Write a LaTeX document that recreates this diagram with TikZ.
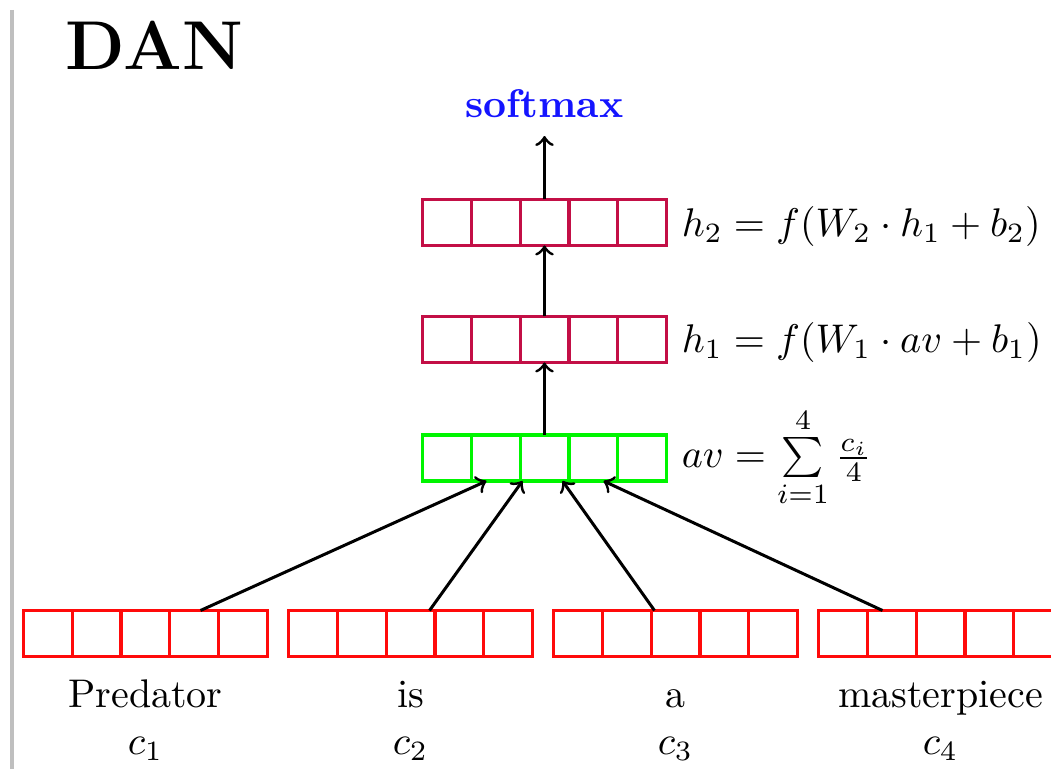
\documentclass[tikz,border=0pt]{standalone}
\usetikzlibrary{calc}
\definecolor{hred}{RGB}{195,15,70}
\definecolor{vgreen}{RGB}{0,245,0}
\definecolor{vred}{RGB}{255,10,10}
\definecolor{smblue}{RGB}{20,20,255}
\begin{document}
\begin{tikzpicture}[x=0.25pt,y=-0.25pt,
  vec/.style={draw, line width=0.8pt, minimum width=61pt, minimum height=11.5pt, inner sep=0pt, outer sep=0pt},
  arr/.style={->, line width=0.75pt},
  lbl/.style={anchor=base west, inner sep=0pt},
  word/.style={anchor=base, inner sep=0pt}]
\useasboundingbox (0,0) rectangle (1051,769);
\clip (0,0) rectangle (1051,769);
\draw[black!25, line width=1pt] (12,10) -- (12,775);
\node[anchor=base west, inner sep=0pt, font=\LARGE\bfseries] (title) at (65,70) {DAN};
% vectors
\node[vec, draw=hred] (h2) at (544.5,222.5) {};
\node[vec, draw=hred] (h1) at (544.5,339.5) {};
\node[vec, draw=vgreen] (av) at (544.5,458) {};
\node[vec, draw=vred] (v1) at (145.5,633.5) {};
\node[vec, draw=vred] (v2) at (410.5,633.5) {};
\node[vec, draw=vred] (v3) at (675.5,633.5) {};
\node[vec, draw=vred] (v4) at (940.5,633.5) {};
\foreach \v/\c in {h2/hred,h1/hred,av/vgreen,v1/vred,v2/vred,v3/vred,v4/vred}
  \foreach \k in {1,...,4}
    \draw[\c, line width=0.8pt] ($(\v.north west)!\k/5!(\v.north east)$) -- ($(\v.south west)!\k/5!(\v.south east)$);
% softmax
\node[anchor=base, inner sep=4.25pt, text=smblue, font=\bfseries] (sm) at (544.5,118) {softmax};
% arrows
\draw[arr] (h2.north) -- (sm.south);
\draw[arr] (h1.north) -- (h2.south);
\draw[arr] (av.north) -- (h1.south);
\draw[arr] ($(v1.north west)+(177,0)$) -- ($(av.south west)+(64,0)$);
\draw[arr] ($(v2.north west)+(141,0)$) -- ($(av.south west)+(100,0)$);
\draw[arr] ($(v3.north west)+(101,0)$) -- ($(av.south west)+(140,0)$);
\draw[arr] ($(v4.north west)+(64,0)$) -- ($(av.south west)+(181,0)$);
% formulas
\node[lbl] (fh2) at (681,237) {$h_2 = f(W_2 \cdot h_1 + b_2)$};
\node[lbl] (fh1) at (681,353) {$h_1 = f(W_1 \cdot av + b_1)$};
\node[lbl] (fav) at (681,468) {$av = \sum\limits_{i=1}^{4} \frac{c_i}{4}$};
% words
\node[word] (w1) at (145.5,708) {Predator};
\node[word] (w2) at (410.5,708) {is};
\node[word] (w3) at (675.5,708) {a};
\node[word] (w4) at (940.5,708) {masterpiece};
\node[word] (c1) at (145.5,755) {$c_1$};
\node[word] (c2) at (410.5,755) {$c_2$};
\node[word] (c3) at (675.5,755) {$c_3$};
\node[word] (c4) at (940.5,755) {$c_4$};
\end{tikzpicture}
\end{document}
